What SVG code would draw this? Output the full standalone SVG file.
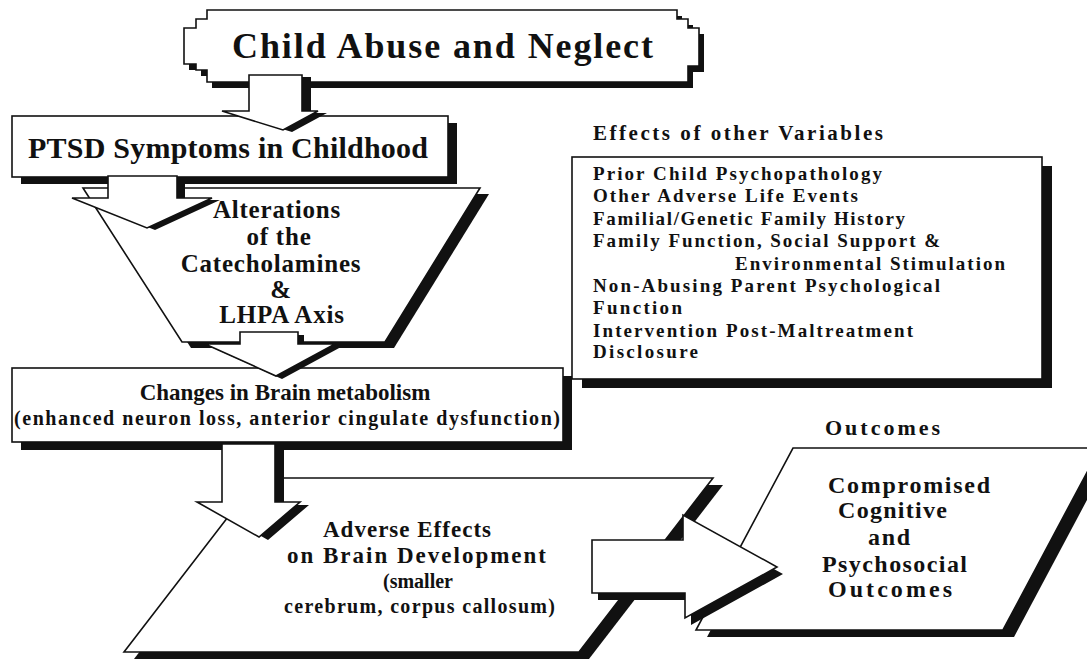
<svg xmlns="http://www.w3.org/2000/svg" width="1087" height="663" viewBox="0 0 1087 663">
<style>
.sh{fill:#111;stroke:none}
.bx{fill:#fff;stroke:#111;stroke-width:1.6;stroke-linejoin:miter}
.t{font-family:"Liberation Serif","Times New Roman",serif;font-weight:bold;fill:#111}
.c{text-anchor:middle}
</style>
<defs>
<path id="pTitle" d="M207,10 H677 V19 H688 V28 H699 V66 H688 V82 H207 V70 H196 V64 H184 V28 H196 V19 H207 Z"/>
<rect id="pPtsd" x="12" y="116" width="436" height="61"/>
<rect id="pVars" x="572" y="157" width="470" height="222"/>
<polygon id="pTrap" points="83,188 480,188 385,342 182,342"/>
<rect id="pChg" x="12" y="368" width="551" height="74"/>
<polygon id="pAdv" points="258,478 713,478 579,652 124,652"/>
<polygon id="pOut" points="793,448 1100,448 1003,630 696,630"/>
<path id="a1" d="M249,75 H302 V111 H318 L283,130 L222,111 H249 Z"/>
<path id="a2" d="M108,176 H177 V198 H212 L147,228 L72,198 H108 Z"/>
<path id="a3" d="M240,332 H298 V344 H335 L276,376 L205,344 H240 Z"/>
<path id="a4" d="M222,444 H275 V502 H300 L259,537 L197,502 H222 Z"/>
<path id="a5" d="M592,540 H683 V515 L777,567 L685,618 V593 H592 Z"/>
</defs>
<rect width="1087" height="663" fill="#fff"/>

<g id="title">
<use href="#pTitle" class="sh" transform="translate(5,6)"/>
<use href="#pTitle" class="bx"/>
<text class="t" x="232" y="58" font-size="36" textLength="421" lengthAdjust="spacing">Child Abuse and Neglect</text>
</g>

<g id="ptsd">
<use href="#pPtsd" class="sh" transform="translate(9,7)"/>
<use href="#pPtsd" class="bx"/>
<text class="t" x="28" y="158" font-size="30" textLength="400" lengthAdjust="spacing">PTSD Symptoms in Childhood</text>
</g>

<g id="variables">
<text class="t" x="593" y="140" font-size="21" textLength="290" lengthAdjust="spacing">Effects of other Variables</text>
<use href="#pVars" class="sh" transform="translate(10,9)"/>
<use href="#pVars" class="bx"/>
<g class="t" font-size="19">
<text x="593" y="180" textLength="289" lengthAdjust="spacing">Prior Child Psychopathology</text>
<text x="593" y="202" textLength="265" lengthAdjust="spacing">Other Adverse Life Events</text>
<text x="593" y="225" textLength="312" lengthAdjust="spacing">Familial/Genetic Family History</text>
<text x="593" y="247" textLength="347" lengthAdjust="spacing">Family Function, Social Support &amp;</text>
<text x="735" y="270" textLength="270" lengthAdjust="spacing">Environmental Stimulation</text>
<text x="593" y="292" textLength="347" lengthAdjust="spacing">Non-Abusing Parent Psychological</text>
<text x="593" y="314" textLength="89" lengthAdjust="spacing">Function</text>
<text x="593" y="337" textLength="320" lengthAdjust="spacing">Intervention Post-Maltreatment</text>
<text x="593" y="358" textLength="105" lengthAdjust="spacing">Disclosure</text>
</g>
</g>

<g id="alterations">
<use href="#pTrap" class="sh" transform="translate(9,6)"/>
<use href="#pTrap" class="bx"/>
<g class="t c" font-size="25" letter-spacing="0.8">
<text x="277" y="218">Alterations</text>
<text x="279" y="245">of the</text>
<text x="271" y="272">Catecholamines</text>
<text x="281" y="298">&amp;</text>
<text x="282" y="323">LHPA Axis</text>
</g>
</g>

<g id="changes">
<use href="#pChg" class="sh" transform="translate(9,8)"/>
<use href="#pChg" class="bx"/>
<text class="t c" x="285" y="400" font-size="23">Changes in Brain metabolism</text>
<text class="t" x="14" y="425" font-size="20" textLength="546" lengthAdjust="spacing">(enhanced neuron loss, anterior cingulate dysfunction)</text>
</g>

<g id="adverse">
<use href="#pAdv" class="sh" transform="translate(10,7)"/>
<use href="#pAdv" class="bx"/>
<text class="t" x="323" y="537" font-size="23" textLength="168" lengthAdjust="spacing">Adverse Effects</text>
<text class="t" x="287" y="563" font-size="23" textLength="259" lengthAdjust="spacing">on Brain Development</text>
<text class="t c" x="418" y="588" font-size="20">(smaller</text>
<text class="t" x="284" y="613" font-size="20" textLength="271" lengthAdjust="spacing">cerebrum, corpus callosum)</text>
</g>

<g id="outcomes">
<text class="t" x="825" y="435" font-size="22" textLength="115" lengthAdjust="spacing">Outcomes</text>
<use href="#pOut" class="sh" transform="translate(11,7)"/>
<use href="#pOut" class="bx"/>
<g class="t" font-size="24">
<text x="828" y="493" textLength="162" lengthAdjust="spacing">Compromised</text>
<text x="838" y="518" textLength="109" lengthAdjust="spacing">Cognitive</text>
<text x="868" y="545" textLength="42" lengthAdjust="spacing">and</text>
<text x="822" y="572" textLength="145" lengthAdjust="spacing">Psychosocial</text>
<text x="828" y="597" textLength="124" lengthAdjust="spacing">Outcomes</text>
</g>
</g>

<g id="connectors">
<use href="#a1" class="sh" transform="translate(9,2)"/>
<use href="#a1" class="bx"/>
<use href="#a2" class="sh" transform="translate(8,2)"/>
<use href="#a2" class="bx"/>
<use href="#a3" class="sh" transform="translate(6,3)"/>
<use href="#a3" class="bx"/>
<use href="#a4" class="sh" transform="translate(9,3)"/>
<use href="#a4" class="bx"/>
<use href="#a5" class="sh" transform="translate(6,7)"/>
<use href="#a5" class="bx"/>
</g>
</svg>
